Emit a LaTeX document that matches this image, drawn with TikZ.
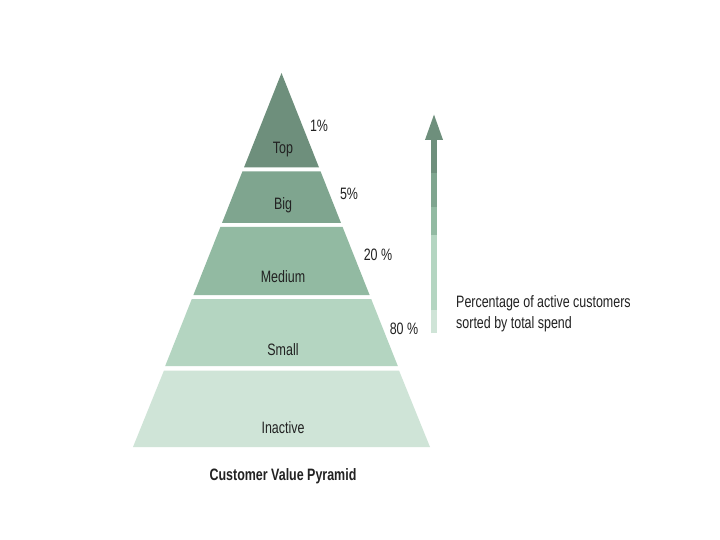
\documentclass[tikz,border=0pt]{standalone}
\usepackage{fontspec}
\setmainfont{Liberation Sans}[FakeStretch=0.755]
\usetikzlibrary{arrows.meta}

\definecolor{tiertop}{RGB}{110,143,124}
\definecolor{tierbig}{RGB}{127,165,143}
\definecolor{tiermedium}{RGB}{146,186,162}
\definecolor{tiersmall}{RGB}{180,213,193}
\definecolor{tierinactive}{RGB}{207,228,215}
\definecolor{labelgray}{RGB}{34,34,34}

\begin{document}
\begin{tikzpicture}[x=1pt,y=-1pt,
    font=\fontsize{16.5}{21}\selectfont,
    tierlabel/.style={text=labelgray,inner sep=1pt},
    shaft/.style={line width=6pt}]
    \useasboundingbox[fill=white] (0,0) rectangle (720,540);

    % pyramid bands
    \fill[tiertop] (281.5,73) -- (319,167.5) -- (244,167.5) -- cycle;
    \fill[tierbig] (242.4,171.5) -- (320.6,171.5) -- (341,223) -- (222,223) -- cycle;
    \fill[tiermedium] (220.4,227) -- (342.6,227) -- (369.6,295) -- (193.4,295) -- cycle;
    \fill[tiersmall] (191.8,299) -- (371.2,299) -- (397.8,366) -- (165.2,366) -- cycle;
    \fill[tierinactive] (164,370.5) -- (399,370.5) -- (430,447) -- (133,447) -- cycle;

    \node[tierlabel] (top) at (283,150) {Top};
    \node[tierlabel] (big) at (283,205) {Big};
    \node[tierlabel] (medium) at (283,277) {Medium};
    \node[tierlabel] (small) at (283,350) {Small};
    \node[tierlabel] (inactive) at (283,428) {Inactive};

    \node[tierlabel] (p1) at (319,126) {1\%};
    \node[tierlabel] (p5) at (349,194) {5\%};
    \node[tierlabel] (p20) at (378,255) {20 \%};
    \node[tierlabel] (p80) at (404,329) {80 \%};

    % spend arrow
    \coordinate (a0) at (434,333);
    \coordinate (a1) at (434,310);
    \coordinate (a2) at (434,235);
    \coordinate (a3) at (434,207);
    \coordinate (a4) at (434,173);
    \coordinate (a5) at (434,113);
    \draw[shaft,tierinactive] (a0)--(a1);
    \draw[shaft,tiersmall] (a1)--(a2);
    \draw[shaft,tiermedium] (a2)--(a3);
    \draw[shaft,tierbig] (a3)--(a4);
    \draw[shaft,tiertop,-{Triangle[width=16pt,length=27pt]}] (a4)--(a5);

    \node[tierlabel,anchor=west,align=left] (spend) at (455,314)
      {Percentage of active customers\\sorted by total spend};

    \node[tierlabel,font=\fontsize{16.5}{21}\selectfont\bfseries] (title)
      at (283,476) {Customer Value Pyramid};
  \end{tikzpicture}
\end{document}
